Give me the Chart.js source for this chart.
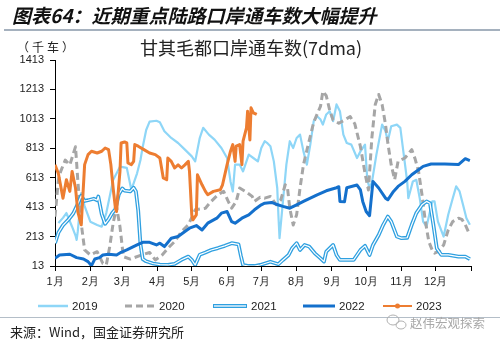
<!DOCTYPE html>
<html>
<head>
<meta charset="utf-8">
<script src="https://cdn.jsdelivr.net/npm/chart.js@4.4.0/dist/chart.umd.min.js"></script>
<style>
  html, body { margin: 0; padding: 0; background: #fff; }
  canvas { display: block; }
</style>
</head>
<body>
<canvas id="chart" width="500" height="344"></canvas>
<script>
// month starts (day of year) and their labels
const monthDays = [0, 31, 59, 90, 120, 151, 181, 212, 243, 273, 304, 334, 365];
const monthLabels = ['1月', '2月', '3月', '4月', '5月', '6月', '7月', '8月', '9月', '10月', '11月', '12月', ''];
const yTicks = [13, 213, 413, 613, 813, 1013, 1213, 1413];

// [day of year, 千车 (7dma)]
const y2019 = [[3,305],[7,340],[10,373],[15,280],[18,220],[19,190],[20,250],[23,509],[26,420],[31,314],[37,292],[41,280],[45,373],[51,597],[57,688],[63,680],[67,530],[72,643],[75,733],[77,824],[80,937],[83,994],[89,1000],[92,990],[96,929],[102,883],[108,849],[114,804],[120,758],[123,724],[127,883],[130,952],[135,906],[140,872],[146,815],[151,747],[154,588],[156,520],[158,702],[162,702],[165,656],[170,770],[174,747],[178,724],[181,815],[184,861],[186,850],[189,827],[192,724],[195,543],[196,361],[197,202],[200,452],[203,702],[206,861],[209,815],[212,883],[215,906],[218,792],[221,702],[224,838],[227,997],[230,1031],[233,1008],[235,974],[238,1043],[241,1065],[244,997],[247,1111],[250,1065],[253,906],[256,849],[260,838],[265,747],[268,792],[272,838],[274,600],[276,543],[278,580],[282,770],[287,974],[290,929],[292,861],[295,963],[300,974],[303,952],[306,770],[309,588],[310,474],[314,588],[317,599],[320,474],[323,315],[326,281],[331,452],[333,452],[336,315],[341,213],[345,361],[349,474],[352,554],[355,520],[358,429],[361,338],[364,293]];

const y2020 = [[0,348],[3,600],[5,656],[9,733],[13,700],[18,824],[20,597],[23,303],[26,122],[31,88],[37,110],[42,31],[45,20],[48,144],[51,303],[54,416],[57,280],[60,76],[66,60],[75,85],[83,105],[88,54],[94,88],[99,133],[105,179],[111,247],[117,293],[123,395],[127,400],[132,406],[137,452],[143,497],[148,520],[152,452],[155,406],[159,452],[162,543],[167,520],[173,486],[175,452],[180,480],[184,474],[189,486],[194,430],[198,460],[202,565],[204,543],[206,406],[209,292],[212,361],[215,543],[218,702],[221,800],[227,990],[233,1100],[235,1200],[238,1170],[241,1073],[244,1005],[249,983],[254,1005],[259,1028],[263,980],[268,824],[272,643],[275,530],[278,883],[281,1111],[284,1179],[287,1111],[290,974],[292,850],[295,700],[298,600],[301,724],[307,747],[313,804],[316,740],[319,656],[322,497],[325,315],[328,179],[331,120],[333,100],[336,110],[341,156],[345,258],[349,315],[354,338],[357,330],[360,293],[364,224]];

const y2021 = [[0,168],[3,240],[7,290],[12,330],[16,370],[20,435],[23,490],[26,455],[29,460],[34,470],[37,460],[38,485],[41,365],[44,300],[47,330],[50,370],[53,400],[56,500],[59,540],[61,525],[66,520],[69,545],[71,520],[73,390],[75,160],[77,60],[80,45],[86,30],[92,22],[99,20],[105,28],[111,55],[117,77],[120,55],[123,20],[127,90],[132,105],[137,122],[143,135],[149,150],[155,168],[161,160],[163,85],[165,20],[170,13],[175,13],[180,20],[189,42],[196,25],[200,54],[205,88],[208,133],[212,168],[215,122],[219,156],[223,145],[228,99],[233,65],[236,43],[238,111],[244,156],[247,88],[250,54],[256,54],[262,54],[268,122],[272,150],[276,88],[279,156],[284,224],[288,293],[292,349],[295,315],[300,213],[304,202],[309,205],[313,293],[317,372],[322,429],[326,452],[329,440],[332,293],[335,133],[339,88],[345,88],[354,77],[360,77],[364,60]];

const y2022 = [[0,65],[4,88],[13,93],[19,70],[25,61],[29,43],[32,15],[35,61],[39,70],[42,88],[47,93],[54,88],[58,106],[63,122],[72,156],[77,174],[83,174],[89,156],[92,168],[96,145],[102,202],[108,213],[114,247],[118,270],[124,288],[129,258],[134,304],[142,338],[146,372],[151,383],[155,315],[158,304],[164,338],[170,361],[175,395],[181,429],[184,440],[190,445],[194,433],[200,418],[206,406],[212,429],[218,452],[224,474],[230,497],[238,524],[247,545],[249,552],[250,452],[254,450],[256,545],[265,563],[268,530],[270,452],[273,383],[276,355],[279,588],[284,543],[290,474],[292,463],[297,520],[301,554],[307,588],[313,633],[319,667],[323,690],[330,706],[342,706],[354,702],[360,742],[364,729]];

const y2023 = [[0,701],[3,640],[7,474],[10,599],[13,520],[15,656],[18,543],[20,383],[23,293],[26,702],[29,770],[32,793],[37,781],[41,793],[44,815],[47,804],[49,702],[51,543],[53,406],[54,383],[55,474],[57,656],[58,849],[61,856],[63,849],[64,713],[67,702],[69,724],[70,838],[73,827],[78,804],[83,781],[88,770],[92,747],[95,611],[98,599],[99,747],[102,724],[105,679],[108,700],[111,679],[114,700],[117,724],[118,656],[120,361],[121,327],[124,361],[125,633],[129,565],[132,520],[134,497],[139,520],[145,531],[147,565],[151,702],[154,793],[156,838],[158,724],[159,827],[162,838],[164,702],[165,861],[168,952],[169,1065],[171,870],[172,1088],[174,1054],[177,1043]];

const seriesNames = ['2019', '2020', '2021', '2022', '2023'];
const c19 = '#8ed6f7', c20 = '#a6a6a6', c21 = '#2fa0e0', c22 = '#1470cc', c23 = '#ed7d31';

const pts = arr => arr.map(p => ({ x: p[0], y: p[1] }));

const legendPlugin = {
  id: 'pageText',
  afterDraw(chart) {
    const ctx = chart.ctx;
    ctx.save();
    // header
    ctx.fillStyle = '#111';
    ctx.textBaseline = 'middle';
    ctx.font = 'italic bold 19px "Noto Sans CJK SC"';
    ctx.fillText('图表64：近期重点陆路口岸通车数大幅提升', 12, 16);
    ctx.strokeStyle = '#8797a8';
    ctx.lineWidth = 1.5;
    ctx.beginPath(); ctx.moveTo(4, 30); ctx.lineTo(500, 30); ctx.stroke();

    // chart title and unit
    ctx.fillStyle = '#222';
    ctx.textAlign = 'center';
    ctx.font = '18px "Noto Sans CJK SC"';
    ctx.fillText('甘其毛都口岸通车数(7dma)', 251, 48);
    ctx.font = '12px "Noto Sans CJK SC"';
    ctx.letterSpacing = '3px';
    ctx.fillText('（千车）', 47, 47);
    ctx.letterSpacing = '0px';

    // legend
    ctx.textAlign = 'left';
    ctx.font = '11.5px "Liberation Sans", Arial';
    const ly = 306;
    const items = [
      { x: 38, w: 30, color: c19, width: 2.5 },
      { x: 125, w: 30, color: c20, width: 3, dash: [7, 4] },
      { x: 213, w: 34, color: c21, width: 4, inner: true },
      { x: 303, w: 32, color: c22, width: 3 },
      { x: 383, w: 29, color: c23, width: 2, dot: true }
    ];
    items.forEach((it, i) => {
      ctx.strokeStyle = it.color;
      ctx.lineWidth = it.width;
      ctx.setLineDash(it.dash || []);
      ctx.beginPath(); ctx.moveTo(it.x, ly); ctx.lineTo(it.x + it.w, ly); ctx.stroke();
      ctx.setLineDash([]);
      if (it.inner) {
        ctx.strokeStyle = '#fff'; ctx.lineWidth = 1.3;
        ctx.beginPath(); ctx.moveTo(it.x + 1, ly); ctx.lineTo(it.x + it.w - 1, ly); ctx.stroke();
      }
      if (it.dot) {
        ctx.fillStyle = it.color;
        ctx.beginPath(); ctx.arc(it.x + it.w / 2, ly, 2.5, 0, Math.PI * 2); ctx.fill();
      }
      ctx.fillStyle = '#222';
      ctx.fillText(seriesNames[i], it.x + it.w + 4, ly + 1);
    });

    // footer
    ctx.strokeStyle = '#b4bec8';
    ctx.lineWidth = 1;
    ctx.beginPath(); ctx.moveTo(0, 317.5); ctx.lineTo(500, 317.5); ctx.stroke();
    ctx.fillStyle = '#222';
    ctx.font = '13px "Noto Sans CJK SC"';
    ctx.fillText('来源：Wind，国金证券研究所', 10, 332);

    // watermark
    ctx.strokeStyle = '#b0b0b0';
    ctx.lineWidth = 1;
    ctx.beginPath(); ctx.ellipse(393, 320, 6, 5, 0, 0, Math.PI * 2); ctx.stroke();
    ctx.beginPath(); ctx.ellipse(401, 325, 5, 4, 0, 0, Math.PI * 2); ctx.stroke();
    ctx.fillStyle = '#a8a8a8';
    ctx.font = '12.5px "Noto Sans CJK SC"';
    ctx.fillText('赵伟宏观探索', 410, 323);
    ctx.restore();
  }
};

const ctx = document.getElementById('chart').getContext('2d');
new Chart(ctx, {
  type: 'line',
  data: {
    datasets: [
      { label: '2023', data: pts(y2023), borderColor: c23, borderWidth: 3, order: 0 },
      { label: '2022', data: pts(y2022), borderColor: c22, borderWidth: 3, order: 1 },
      { label: '2021', data: pts(y2021), borderColor: '#ffffff', borderWidth: 1.2, order: 2 },
      { label: '2021', data: pts(y2021), borderColor: c21, borderWidth: 3.8, order: 3 },
      { label: '2020', data: pts(y2020), borderColor: c20, borderWidth: 3, borderDash: [7, 4], order: 4 },
      { label: '2019', data: pts(y2019), borderColor: c19, borderWidth: 2.2, order: 5 }
    ]
  },
  options: {
    responsive: false,
    animation: false,
    layout: { padding: { top: 60, right: 29, left: 0, bottom: 54 } },
    elements: {
      point: { radius: 0 },
      line: { tension: 0, borderJoinStyle: 'round', fill: false }
    },
    plugins: {
      legend: { display: false },
      title: { display: false },
      tooltip: { enabled: false }
    },
    scales: {
      x: {
        type: 'linear',
        min: 0,
        max: 365,
        afterFit: s => { s.height = 24; },
        afterBuildTicks: s => { s.ticks = monthDays.map(v => ({ value: v })); },
        grid: { drawOnChartArea: false, color: '#000', tickLength: 5 },
        border: { color: '#000', width: 1 },
        ticks: {
          autoSkip: false,
          maxRotation: 0,
          padding: 4,
          color: '#222',
          font: { family: '"Liberation Sans", Arial', size: 11 },
          callback: v => monthLabels[monthDays.indexOf(v)]
        }
      },
      y: {
        min: 13,
        max: 1413,
        afterFit: s => { s.width = 55; },
        afterBuildTicks: s => { s.ticks = yTicks.map(v => ({ value: v })); },
        grid: { drawOnChartArea: false, color: '#000', tickLength: 5 },
        border: { color: '#000', width: 1 },
        ticks: {
          padding: 6,
          color: '#222',
          font: { family: '"Liberation Sans", Arial', size: 11 },
          callback: v => String(v)
        }
      }
    }
  },
  plugins: [legendPlugin]
});
</script>
</body>
</html>
